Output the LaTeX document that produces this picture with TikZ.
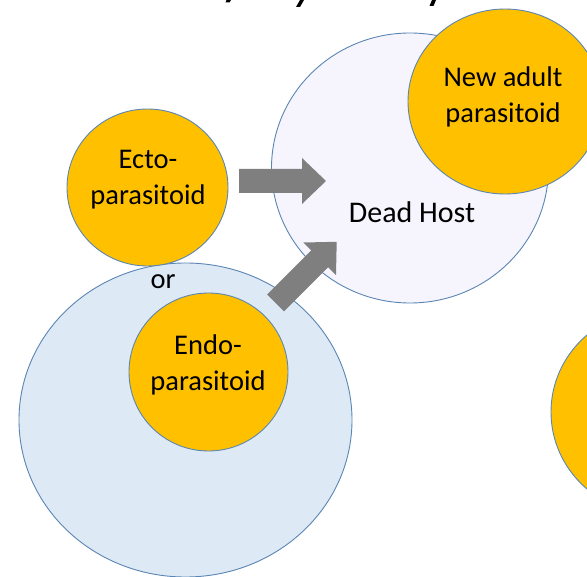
\documentclass[tikz,border=0pt]{standalone}
\usepackage{fontspec}
\setmainfont{Carlito}
\usetikzlibrary{shapes.geometric,calc}
\definecolor{gold}{HTML}{FFC000}
\definecolor{rim}{HTML}{5B86B3}
\definecolor{hostfill}{HTML}{F6F4FD}
\definecolor{bigfill}{HTML}{DDEAF6}
\definecolor{arrowgray}{HTML}{7F7F7F}
% block arrow from #1 (tail centre) to #2 (tip)
\newcommand\myblockarrow[2]{%
  \coordinate (bahead) at ($(#2)!24pt!(#1)$);
  \fill[arrowfill]
    ($(#1)!12pt!90:(#2)$) -- ($(bahead)!12pt!90:(#2)$) -- ($(bahead)!23pt!90:(#2)$)
    -- (#2)
    -- ($(bahead)!23pt!-90:(#2)$) -- ($(bahead)!12pt!-90:(#2)$) -- ($(#1)!12pt!-90:(#2)$) -- cycle;
}
\begin{document}
\begin{tikzpicture}[x=1pt,y=-1pt,
  blob/.style={ellipse, draw=rim, line width=0.9pt, inner sep=0pt},
  para/.style={blob, fill=gold},
  lbl/.style={font=\fontsize{28.5}{36.5}\selectfont, align=center, anchor=base, inner sep=0pt},
  arrowfill/.style={fill=arrowgray},
  inkmark/.style={fill=black}]
\useasboundingbox (0,0) rectangle (587,577);
\clip (0,0) rectangle (587,577);
% circles
\node[blob, fill=hostfill, minimum width=277pt, minimum height=270pt] (host) at (410,168) {};
\node[para, minimum width=194pt, minimum height=185pt] (adult) at (505,101.5) {};
\node[blob, fill=bigfill, minimum width=333pt, minimum height=314pt] (livehost) at (185.5,420) {};
\node[para, minimum width=159pt, minimum height=158pt] (endo) at (208.5,372) {};
\node[para, minimum width=161pt, minimum height=157pt] (ecto) at (147.5,187.5) {};
\node[para, minimum width=212pt, minimum height=205pt] (nextpara) at (657,412) {};
% labels (base anchor = baseline of the last line)
\node[lbl, font=\fontsize{30}{36.5}\selectfont] (hostlbl) at (412,223) {Dead Host};
\node[lbl] (adultlbl) at (503,123) {New adult\\parasitoid};
\node[lbl] (ectolbl) at (148,205) {Ecto-\\parasitoid};
\node[lbl] (endolbl) at (208,391) {Endo-\\parasitoid};
\node[lbl] (orlbl) at (163,289) {or};
% arrows
\coordinate (a1s) at (239,181);
\coordinate (a1e) at (326,181);
\coordinate (a2s) at (275.5,303);
\coordinate (a2e) at (336.7,241.8);
\myblockarrow{a1s}{a1e}
\myblockarrow{a2s}{a2e}
% remnants of cut-off text at the top edge
\fill[inkmark] (226.5,0) -- (231,0) -- (229.5,2.5) -- (225.5,2.5) -- cycle;
\fill[inkmark] (300,0) -- (304,0) -- (300,7) -- (296,7) -- cycle;
\fill[inkmark] (432,0) -- (436,0) -- (433.5,6) -- (429.5,6) -- cycle;
\end{tikzpicture}
\end{document}
